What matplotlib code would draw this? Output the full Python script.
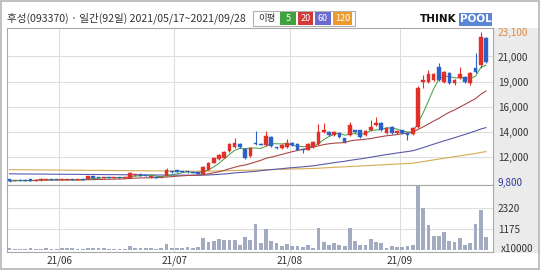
import matplotlib
matplotlib.use("Agg")
import matplotlib.pyplot as plt
from matplotlib.patches import Rectangle
import numpy as np
import pandas as pd

plt.rcParams['font.family'] = ['Noto Sans CJK KR', 'DejaVu Sans']

# ---------------- data ----------------
title = "후성(093370) · 일간(92일) 2021/05/17~2021/09/28"
holidays = ['2021-05-19', '2021-08-16', '2021-09-20', '2021-09-21', '2021-09-22']
dates = pd.bdate_range('2021-05-17', '2021-09-28')
dates = dates[~dates.isin(pd.to_datetime(holidays))]

opens = [10000, 9900, 9950, 9950, 10000, 9880, 9900, 9950, 10000, 9980,
         9920, 9950, 10000, 9950, 10000, 10000, 10250, 10200, 10120, 10200,
         10100, 10180, 10100, 10150, 10350, 10450, 10350, 10200, 10200, 10180,
         10300, 10700, 10780, 10700, 10700, 10650, 10600, 10470, 10820, 11440,
         11800, 11880, 12500, 12860, 13120, 12680, 12060, 13210, 13150, 13040,
         13750, 12800, 12770, 12860, 13210, 13120, 12650, 12590, 12860, 13120,
         14190, 14190, 13920, 14100, 13660, 13920, 14370, 14370, 13920, 14370,
         14810, 14990, 14100, 14630, 14100, 14370, 14100, 14010, 14650, 18620,
         18620, 18800, 19950, 18620, 19420, 18530, 18980, 19060, 18530, 19860,
         20100, 22500]
highs = [10050, 9950, 10000, 9980, 10020, 9980, 10080, 10050, 10020, 10000,
         10000, 10000, 10030, 10030, 10020, 10300, 10300, 10230, 10230, 10220,
         10200, 10200, 10180, 10600, 10500, 10480, 10380, 10250, 10230, 10230,
         11000, 10750, 10800, 10750, 10730, 10680, 10620, 11150, 11500, 11950,
         12200, 12500, 13200, 13650, 13200, 12750, 12850, 14280, 13250, 14280,
         13800, 12900, 13100, 13570, 13300, 13200, 12700, 13200, 13350, 14900,
         14990, 14300, 14250, 14150, 13700, 15080, 14400, 14400, 14350, 15250,
         15520, 15050, 14600, 14700, 14350, 14400, 14150, 14600, 18300, 19240,
         19690, 19400, 20280, 19600, 19500, 18900, 19950, 19150, 19500, 21190,
         23100, 22600]
lows = [9800, 9850, 9880, 9850, 9850, 9860, 9880, 9920, 9930, 9900,
        9900, 9920, 9920, 9930, 9930, 9980, 10120, 10100, 10100, 10080,
        10080, 10080, 10080, 10100, 10320, 10280, 10250, 10150, 10120, 10150,
        10250, 10580, 10620, 10650, 10580, 10520, 10450, 10450, 10800, 11400,
        11750, 11850, 12450, 12800, 12800, 11800, 12000, 13000, 13000, 12950,
        12900, 12700, 12700, 12800, 12950, 12550, 12330, 12550, 12800, 13050,
        14100, 13850, 13850, 13700, 13200, 13850, 14100, 13700, 13850, 14300,
        14750, 14300, 14050, 14050, 14050, 14050, 13480, 13950, 14550, 18090,
        18550, 18700, 18700, 18550, 18450, 18350, 18900, 18550, 18350, 19420,
        19900, 20300]
closes = [9850, 9900, 9900, 9880, 9870, 9950, 10050, 10000, 9950, 9920,
          9980, 9960, 9930, 10000, 9950, 10250, 10150, 10120, 10200, 10100,
          10180, 10100, 10150, 10550, 10450, 10300, 10280, 10200, 10150, 10200,
          10800, 10600, 10650, 10680, 10600, 10550, 10480, 11110, 11440, 11880,
          12150, 12420, 13120, 13210, 12860, 11880, 12770, 13120, 13050, 13840,
          12950, 12780, 13040, 13210, 13040, 12590, 12560, 13120, 13300, 14190,
          14370, 13920, 14190, 13750, 13300, 14810, 14190, 13750, 14280, 14630,
          14990, 14370, 14540, 14100, 14280, 14100, 13920, 14540, 18070, 18800,
          19330, 19330, 18800, 19510, 18530, 18800, 19330, 18620, 19420, 19510,
          22650, 20400]
volumes = [125, 55, 55, 55, 105, 70, 70, 105, 70, 55,
           90, 105, 105, 70, 55, 90, 105, 105, 105, 70,
           55, 55, 55, 195, 105, 105, 105, 90, 55, 90,
           320, 105, 105, 105, 140, 90, 140, 670, 440, 475,
           615, 560, 560, 560, 300, 740, 560, 1420, 370, 1175,
           520, 370, 205, 335, 240, 240, 190, 280, 110, 1230,
           465, 280, 370, 300, 240, 1230, 485, 300, 300, 615,
           430, 370, 110, 240, 190, 190, 240, 280, 3500, 2330,
           1400, 750, 750, 990, 520, 465, 670, 300, 370, 1450,
           2200, 710]
ma60 = [10480, 10476, 10472, 10468, 10465, 10461, 10458, 10454, 10450, 10447,
        10443, 10440, 10436, 10432, 10429, 10425, 10421, 10418, 10414, 10410,
        10407, 10403, 10400, 10396, 10393, 10389, 10385, 10382, 10378, 10375,
        10371, 10368, 10364, 10360, 10357, 10353, 10350, 10362, 10379, 10404,
        10433, 10467, 10512, 10559, 10600, 10625, 10664, 10710, 10754, 10811,
        10854, 10893, 10937, 10984, 11028, 11065, 11101, 11146, 11194, 11257,
        11332, 11399, 11471, 11535, 11592, 11673, 11742, 11804, 11876, 11955,
        12038, 12111, 12188, 12256, 12328, 12392, 12455, 12529, 12660, 12805,
        12958, 13112, 13256, 13405, 13540, 13682, 13833, 13973, 14128, 14283,
        14450, 14580]
ma120 = [10850, 10846, 10842, 10838, 10834, 10830, 10827, 10823, 10819, 10815,
         10811, 10807, 10803, 10799, 10795, 10791, 10788, 10784, 10780, 10776,
         10772, 10768, 10764, 10760, 10756, 10752, 10749, 10745, 10741, 10737,
         10733, 10729, 10725, 10721, 10717, 10713, 10710, 10714, 10719, 10726,
         10734, 10744, 10757, 10771, 10783, 10790, 10802, 10815, 10828, 10845,
         10858, 10870, 10883, 10897, 10910, 10921, 10932, 10945, 10960, 10980,
         11005, 11030, 11055, 11078, 11100, 11125, 11150, 11172, 11197, 11223,
         11250, 11274, 11299, 11322, 11347, 11370, 11393, 11420, 11490, 11565,
         11640, 11715, 11785, 11860, 11928, 12000, 12075, 12143, 12215, 12288,
         12380, 12450]
price_labels = ["9,800", "12,000", "14,000", "16,000", "19,000", "21,000", "23,100"]
price_min, price_max = 9800, 23100
vol_ticks = [1175, 2320]
vol_labels = ["1175", "2320"]
legend_items = [("5", "#3fa23f"), ("20", "#d23a3a"), ("60", "#6a6ad0"), ("120", "#ee9a2a")]

# ---------------- layout ----------------
W, H = 540, 270
fig = plt.figure(figsize=(W / 100, H / 100), dpi=100)
fig.patch.set_facecolor('white')


def px_axes(x0, y0, x1, y1):
    return fig.add_axes([x0 / W, 1 - y1 / H, (x1 - x0) / W, (y1 - y0) / H])


# right label column background + outer frame (behind axes)
fig.patches.append(Rectangle((493 / W, 1 - 253 / H), 47 / W, 225 / H, transform=fig.transFigure,
                             facecolor='#ebebeb', edgecolor='none', zorder=-5))
fig.patches.append(Rectangle((1 / W, 1 / H), 538 / W, 268 / H, transform=fig.transFigure,
                             facecolor='none', edgecolor='#b5b5b5', lw=1.2, zorder=-4))

n = len(closes)
idx = np.arange(n)
o = np.array(opens); c = np.array(closes); h = np.array(highs); l = np.array(lows)
up = c >= o
RED, BLUE = '#e0302a', '#2a62c8'
colors = np.where(up, RED, BLUE)

px_per = (486 - 9.5) / (n - 1)
xlim = (-2.5 / px_per, (n - 1) + 7 / px_per)

month_starts = [i for i in range(1, n) if dates[i].month != dates[i - 1].month]
month_pos = [i - 0.5 for i in month_starts]
month_lbls = [dates[i].strftime('%y/%m') for i in month_starts]

# price axes
axp = px_axes(7, 28, 493, 185)
span = (price_max - price_min) / 150.0
axp.set_ylim(price_min - 3.5 * span, price_max + 3.5 * span)
axp.set_xlim(*xlim)
yt = [price_min + k * (price_max - price_min) / 6 for k in range(7)]
for k in range(1, 6):
    axp.axhline(yt[k], color='#dedede', lw=0.8, zorder=0)
for p in month_pos:
    axp.axvline(p, color='#dedede', lw=0.8, zorder=0)

ma5 = pd.Series(closes).rolling(5, min_periods=1).mean()
ma20 = pd.Series(closes).rolling(20, min_periods=1).mean()
axp.plot(idx, ma120, color='#d8aa50', lw=0.8, zorder=1)
axp.plot(idx, ma60, color='#5a5aa8', lw=0.8, zorder=1)
axp.plot(idx, ma20, color='#a84848', lw=0.8, zorder=1)
axp.plot(idx, ma5, color='#3c9c3c', lw=0.7, zorder=1)

axp.vlines(idx, l, h, colors=colors, lw=0.8, zorder=2)
body = np.maximum(np.abs(c - o), 55)
axp.bar(idx, body, bottom=np.minimum(o, c), width=0.7, color=colors, edgecolor=colors, lw=0.3, zorder=3)

axp.set_yticks(yt)
axp.set_yticklabels(price_labels)
axp.yaxis.tick_right()
axp.tick_params(axis='y', length=0, pad=3.5, labelsize=7.2, labelcolor='#333333')
tl = axp.get_yticklabels()
tl[0].set_color('#30389a')
tl[-1].set_color('#e08a40')
axp.set_xticks([])
for s in axp.spines.values():
    s.set_color('#a8a8a8'); s.set_linewidth(0.8)

# volume axes
axv = px_axes(7, 185, 493, 252)
axv.set_xlim(*xlim)
axv.set_ylim(-110, 3575)
for v in vol_ticks:
    axv.axhline(v, color='#dedede', lw=0.8, zorder=0)
for p in month_pos:
    axv.axvline(p, color='#dedede', lw=0.8, zorder=0)
axv.bar(idx, volumes, width=0.72, color='#a3abc0', zorder=2)
axv.set_yticks(vol_ticks)
axv.set_yticklabels(vol_labels)
axv.yaxis.tick_right()
axv.tick_params(axis='y', length=0, pad=3.5, labelsize=7.2, labelcolor='#333333')
axv.set_xticks(month_pos)
axv.set_xticklabels(month_lbls)
axv.tick_params(axis='x', length=0, pad=2.5, labelsize=7.2, labelcolor='#333333')
for s in axv.spines.values():
    s.set_color('#a8a8a8'); s.set_linewidth(0.8)
fig.text(501 / W, 1 - 249 / H, "x10000", fontsize=7.2, color='#333333', va='center', ha='left')

# header
fig.text(7 / W, 1 - 18.5 / H, title, fontsize=7.6, color='#333333', va='center', ha='left')
fig.patches.append(Rectangle((253 / W, 1 - 26 / H), 102 / W, 15 / H, transform=fig.transFigure,
                             facecolor='white', edgecolor='#b0b0b0', lw=0.8, zorder=1))
fig.text(258 / W, 1 - 18.5 / H, "이평", fontsize=6.8, color='#333333', va='center', ha='left', zorder=2)
bx = [(280, 296), (298, 313), (315, 331), (333, 352)]
for (lbl, col), (x0, x1) in zip(legend_items, bx):
    fig.patches.append(Rectangle((x0 / W, 1 - 25 / H), (x1 - x0) / W, 13 / H, transform=fig.transFigure,
                                 facecolor=col, edgecolor='none', zorder=2))
    fig.text((x0 + x1) / 2 / W, 1 - 18.5 / H, lbl, fontsize=6.5, color='white', va='center', ha='center', zorder=3)

fig.text(420 / W, 1 - 19 / H, "THINK", fontsize=7.5, fontweight='bold', color='#111111',
         va='center', ha='left', family='DejaVu Sans')
fig.patches.append(Rectangle((459 / W, 1 - 26 / H), 33 / W, 13 / H, transform=fig.transFigure,
                             facecolor='#5b86d6', edgecolor='none', zorder=2))
fig.text(475.5 / W, 1 - 19 / H, "POOL", fontsize=7.5, fontweight='bold', color='white',
         va='center', ha='center', family='DejaVu Sans', zorder=3)

fig.savefig('out.png', dpi=100)
